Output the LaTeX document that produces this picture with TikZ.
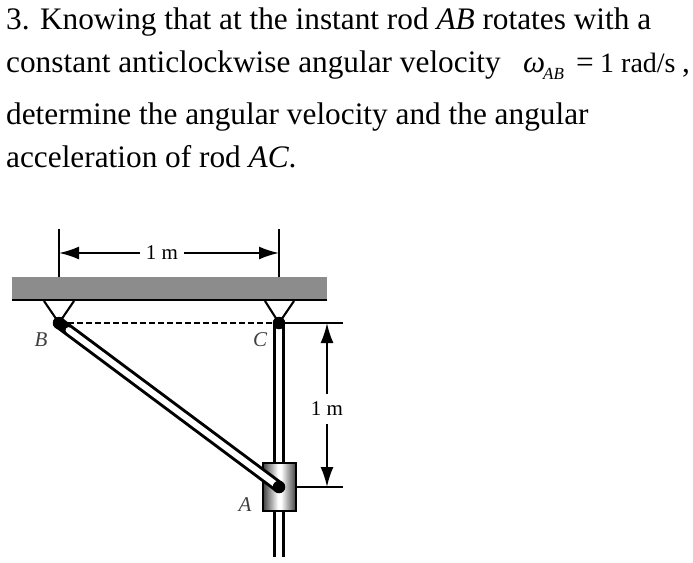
\documentclass[tikz,border=0pt]{standalone}
\usepackage{fontspec}
\setmainfont{Liberation Serif}
\usetikzlibrary{arrows.meta,calc}
\tikzset{
  line/.style={text=black,font=\fontsize{31.3}{33}\selectfont,anchor=base west,inner sep=0pt},
  lab/.style={font=\itshape\fontsize{21}{23}\selectfont,text=black!75,inner sep=0pt},
  dimlab/.style={font=\fontsize{21}{23}\selectfont,fill=white,inner xsep=6pt,inner ysep=8pt},
  thin line/.style={line width=2.1pt},
  dimarrow/.style={line width=2pt,{Latex[length=20pt,width=13pt]}-{Latex[length=20pt,width=13pt]}},
  pin/.style={circle,fill=black,inner sep=0pt,minimum size=12.5pt},
  ceil/.style={fill=black!45,draw=none},
  collar/.style={draw=black,line width=2.2pt}
}
\begin{document}
\begin{tikzpicture}[x=1pt,y=-1pt]
\useasboundingbox (0,0) rectangle (693,562);
\fill[white] (0,0) rectangle (693,562);
\node[line] (t1) at (6,29) {3. Knowing that at the instant rod \textit{AB} rotates with a};
\node[line] (t2) at (6,72) {constant anticlockwise angular velocity};
\node[line] (t3) at (6,124) {determine the angular velocity and the angular};
\node[line] (t4) at (6,167) {acceleration of rod \textit{AC}.};
\node[line] (om) at (523,72) {\textit{ω}};
\node[inner sep=0pt,anchor=base west,font=\itshape\fontsize{17}{18}\selectfont] (omsub) at (543,79) {AB};
\node[line] (omeq) at (576,72) {=};
\node[line,font=\fontsize{28}{30}\selectfont] (omval) at (600,72) {1 rad/s};
\node[line] (omcomma) at (682,72) {,};
% ceiling
\node[ceil,minimum width=315pt,minimum height=23pt,inner sep=0pt,anchor=north west] (wall) at (12,277) {};
\coordinate (wl) at (12,300); \coordinate (wr) at (327,300);
\draw[line width=2.8pt] (wl) -- (wr);
% joints
\coordinate (B) at (59,323);
\coordinate (C) at (279,323);
\coordinate (A) at (279,487);
% brackets
\coordinate (b1) at (44,301); \coordinate (b2) at (74,301);
\coordinate (c1) at (265,301); \coordinate (c2) at (294,301);
\draw[thin line] (b1) -- (B) -- (b2);
\draw[thin line] (c1) -- (C) -- (c2);
% dashed
\draw[line width=1.3pt,dash pattern=on 6pt off 3pt] (B) -- (C);
% rod AC
\draw[line width=2.8pt] ($(C)+(-4.5,0)$) -- ($(A)+(-4.5,70)$);
\draw[line width=2.8pt] ($(C)+(4.5,0)$) -- ($(A)+(4.5,70)$);
% collar: graded strips, dark at the sides, white towards the middle
\foreach \i in {0,...,32}{
  \pgfmathsetmacro{\p}{\i<18 ? max(0,75*(1-\i/15)) : min(70,70*(\i-18)/14)}
  \fill[black!\p] (263+\i,463) rectangle (264.2+\i,511);
}
\node[collar,minimum width=33pt,minimum height=48pt,inner sep=0pt] (col) at (279.5,487) {};
% rod AB
\draw[line width=12pt,line cap=round] (B) -- (A);
\draw[line width=6pt,white,line cap=round] ($(B)!12pt!(A)$) -- (A);
\node[pin] (pB) at (B) {};
\node[pin] (pC) at (C) {};
\node[pin] (pA) at (A) {};
% dimension 1 m horizontal
\coordinate (d1t) at (59,229); \coordinate (d1b) at (59,277);
\coordinate (d2t) at (279,229); \coordinate (d2b) at (279,277);
\draw[thin line] (d1t) -- (d1b);
\draw[thin line] (d2t) -- (d2b);
\coordinate (ha) at (59,253); \coordinate (hb) at (279,253);
\draw[dimarrow] (ha) -- (hb);
\node[dimlab] (hl) at (162,253) {1 m};
% dimension 1 m vertical
\coordinate (e1) at (343,323); \coordinate (e2) at (343,487);
\draw[thin line] (pC) -- (e1);
\draw[thin line] (col.east |- A) -- (e2);
\coordinate (va) at (327,323); \coordinate (vb) at (327,487);
\draw[dimarrow] (va) -- (vb);
\node[dimlab] (vl) at (327,409) {1 m};
% labels
\node[lab] (lB) at (41,340) {B};
\node[lab] (lC) at (260,340) {C};
\node[lab] (lA) at (245,505) {A};
\end{tikzpicture}
\end{document}
